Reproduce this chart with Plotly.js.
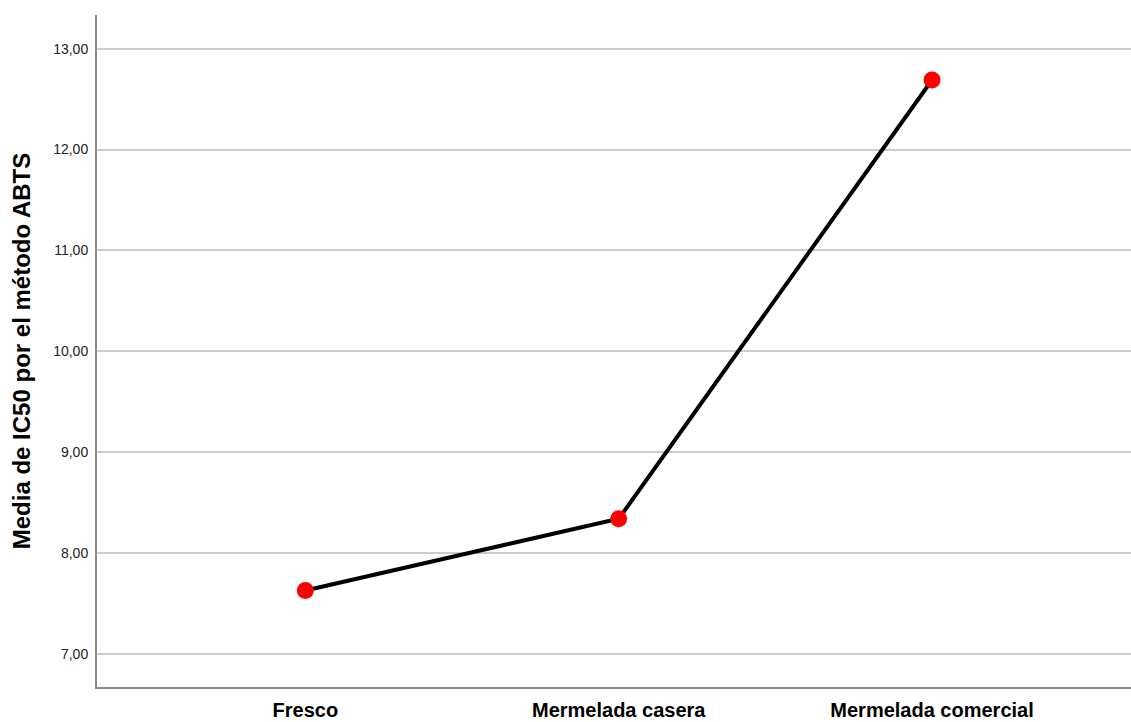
<!DOCTYPE html>
<html>
<head>
<meta charset="utf-8">
<script src="https://cdn.plot.ly/plotly-3.0.1.min.js"></script>
<style>html,body{margin:0;padding:0;background:#fff;}#chart{width:1131px;height:722px;}</style>
</head>
<body>
<div id="chart"></div>
<script>
const categories = ["Fresco", "Mermelada casera", "Mermelada comercial"];
const meanIC50 = [7.63, 8.34, 12.69];
const yTickVals = [7, 8, 9, 10, 11, 12, 13];
const yTickText = ["7,00", "8,00", "9,00", "10,00", "11,00", "12,00", "13,00"];

const trace = {
  x: [0, 1, 2],
  y: meanIC50,
  type: "scatter",
  mode: "lines+markers",
  line: {color: "#000000", width: 4},
  marker: {color: "#ff0000", size: 17},
  hoverinfo: "none"
};

const layout = {
  width: 1131, height: 722,
  margin: {l: 97, r: 0, t: 15, b: 35},
  paper_bgcolor: "#ffffff",
  plot_bgcolor: "#ffffff",
  showlegend: false,
  xaxis: {
    range: [-0.665, 2.635],
    tickvals: [0, 1, 2],
    ticktext: categories,
    showgrid: false,
    zeroline: false,
    showline: true,
    linecolor: "#8a8a8a",
    linewidth: 2,
    ticks: "",
    ticklabelstandoff: 4,
    tickfont: {family: "Liberation Sans, Arial", size: 20, color: "#000000", weight: "bold"}
  },
  yaxis: {
    range: [6.673, 13.334],
    tickvals: yTickVals,
    ticktext: yTickText,
    showgrid: true,
    gridcolor: "#cccccc",
    gridwidth: 2,
    zeroline: false,
    showline: true,
    linecolor: "#8a8a8a",
    linewidth: 2,
    ticks: "",
    ticklabelstandoff: 4,
    tickfont: {family: "Liberation Sans, Arial", size: 14, color: "#222222"},
    title: {text: "Media de IC50 por el método ABTS", standoff: 16,
      font: {family: "Liberation Sans, Arial", size: 24, color: "#000000", weight: "bold"}}
  }
};

Plotly.newPlot("chart", [trace], layout, {staticPlot: true, displayModeBar: false});
</script>
</body>
</html>
